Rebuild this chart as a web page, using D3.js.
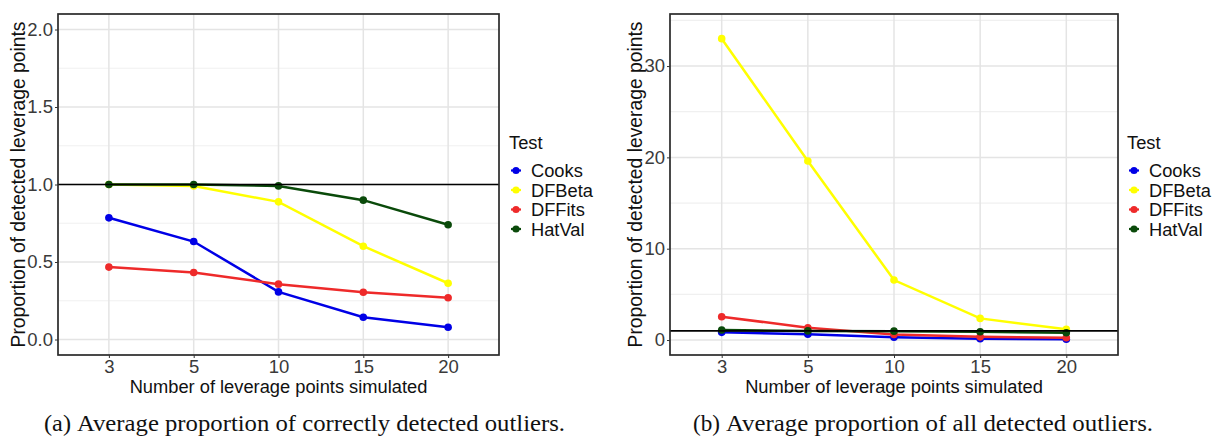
<!DOCTYPE html>
<html><head><meta charset="utf-8">
<script src="https://cdn.jsdelivr.net/npm/d3@7"></script>
<style>body{margin:0;background:#fff}svg{display:block}</style>
</head><body>
<svg id="c" width="1215" height="440"></svg>
<script>
const categories = ["3","5","10","15","20"];
const tests = ["Cooks","DFBeta","DFFits","HatVal"];
const colors = ["#0000e6","#ffff00","#ee2a2a","#0a4a0a"];
// Panel (a): correctly detected
const cooksA  = [0.785,0.632,0.307,0.144,0.079];
const dfbetaA = [1.0,0.99,0.888,0.602,0.363];
const dffitsA = [0.467,0.432,0.357,0.305,0.269];
const hatvalA = [1.0,1.0,0.991,0.899,0.74];
// Panel (b): all detected
const cooksB  = [0.84,0.63,0.31,0.14,0.08];
const dfbetaB = [33.0,19.6,6.57,2.37,1.17];
const dffitsB = [2.55,1.35,0.6,0.35,0.25];
const hatvalB = [1.1,1.0,0.97,0.9,0.8];
const yTicksA = [0,0.5,1.0,1.5,2.0];
const yMinorA = [0.25,0.75,1.25,1.75];
const yTicksB = [0,10,20,30];
const yMinorB = [5,15,25,35];
const refLine = 1;
const captionA = ["(a)","Average proportion of correctly detected outliers."];
const captionB = ["(b)","Average proportion of all detected outliers."];
const xTitle = "Number of leverage points simulated";
const yTitle = "Proportion of detected leverage points";
const legendTitle = "Test";

const svg = d3.select("#c");
const SANS = "'Liberation Sans', Arial, sans-serif";

function panel(cfg){
  const {x0,x1,y0,y1,domain,ticks,minor,series,fmt,ytx,leg} = cfg;
  const x = d3.scalePoint().domain(categories).range([x0,x1]).padding(0.6);
  const y = d3.scaleLinear().domain(domain).range([y1,y0]);
  const g = svg.append("g");
  // grid
  g.selectAll(".mn").data(minor).join("line")
    .attr("x1",x0).attr("x2",x1).attr("y1",d=>y(d)).attr("y2",d=>y(d))
    .attr("stroke","#f0f0f0").attr("stroke-width",1.2);
  g.selectAll(".mj").data(ticks).join("line")
    .attr("x1",x0).attr("x2",x1).attr("y1",d=>y(d)).attr("y2",d=>y(d))
    .attr("stroke","#e4e4e4").attr("stroke-width",1.5);
  g.selectAll(".mx").data(categories).join("line")
    .attr("x1",d=>x(d)).attr("x2",d=>x(d)).attr("y1",y0).attr("y2",y1)
    .attr("stroke","#e4e4e4").attr("stroke-width",1.5);
  // series
  series.forEach((vals,i)=>{
    const line = d3.line().x((d,j)=>x(categories[j])).y(d=>y(d));
    g.append("path").datum(vals).attr("d",line).attr("fill","none")
      .attr("stroke",colors[i]).attr("stroke-width",2.5);
    g.selectAll(null).data(vals).join("circle")
      .attr("cx",(d,j)=>x(categories[j])).attr("cy",d=>y(d)).attr("r",3.8)
      .attr("fill",colors[i]);
  });
  // hline
  g.append("line").attr("x1",x0).attr("x2",x1).attr("y1",y(refLine)).attr("y2",y(refLine))
    .attr("stroke","#000").attr("stroke-width",1.7);
  // border
  g.append("rect").attr("x",x0).attr("y",y0).attr("width",x1-x0).attr("height",y1-y0)
    .attr("fill","none").attr("stroke","#2a2a2a").attr("stroke-width",1.7);
  // axes
  const ya = d3.axisLeft(y).tickValues(ticks).tickSize(3).tickPadding(2).tickFormat(fmt);
  const ag = g.append("g").attr("transform",`translate(${x0},0)`).call(ya);
  ag.select(".domain").remove();
  ag.selectAll("line").attr("stroke","#333");
  ag.selectAll("text").attr("font-family",SANS).attr("font-size",18.5).attr("fill","#3a3a3a");
  const xa = d3.axisBottom(x).tickSize(3).tickPadding(2);
  const xg = g.append("g").attr("transform",`translate(0,${y1})`).call(xa);
  xg.select(".domain").remove();
  xg.selectAll("line").attr("stroke","#333");
  xg.selectAll("text").attr("font-family",SANS).attr("font-size",18.5).attr("fill","#3a3a3a");
  // titles
  g.append("text").attr("x",(x0+x1)/2).attr("y",393).attr("text-anchor","middle")
    .attr("font-family",SANS).attr("font-size",18.3).attr("fill","#111").text(xTitle);
  g.append("text").attr("transform",`translate(${ytx},${(y0+y1)/2}) rotate(-90)`)
    .attr("text-anchor","middle").attr("font-family",SANS).attr("font-size",19.3)
    .attr("fill","#111").text(yTitle);
  // legend
  g.append("text").attr("x",leg.x).attr("y",149).attr("font-family",SANS)
    .attr("font-size",18.3).attr("fill","#111").text(legendTitle);
  tests.forEach((t,i)=>{
    const cy = 170.5 + i*19.5;
    g.append("line").attr("x1",leg.x+2).attr("x2",leg.x+12).attr("y1",cy).attr("y2",cy)
      .attr("stroke",colors[i]).attr("stroke-width",2.2);
    g.append("circle").attr("cx",leg.x+7).attr("cy",cy).attr("r",3.6).attr("fill",colors[i]);
    g.append("text").attr("x",leg.x+22).attr("y",cy+6.5).attr("font-family",SANS)
      .attr("font-size",18.3).attr("fill","#111").text(t);
  });
}

panel({x0:58,x1:499,y0:14,y1:355,domain:[-0.1,2.1],ticks:yTicksA,minor:yMinorA,
  series:[cooksA,dfbetaA,dffitsA,hatvalA],fmt:d3.format(".1f"),ytx:25,leg:{x:509}});
panel({x0:670,x1:1118,y0:14,y1:355,domain:[-1.64,35.7],ticks:yTicksB,minor:yMinorB,
  series:[cooksB,dfbetaB,dffitsB,hatvalB],fmt:d3.format("d"),ytx:642,leg:{x:1127}});

// captions
const SERIF = "'Liberation Serif','DejaVu Serif',serif";
function caption(parts,x0,x1,x2){
  svg.append("text").attr("x",x0).attr("y",431).attr("font-family",SERIF).attr("font-size",24)
    .attr("fill","#111").attr("textLength",x1-x0-6).attr("lengthAdjust","spacingAndGlyphs").text(parts[0]);
  svg.append("text").attr("x",x1).attr("y",431).attr("font-family",SERIF).attr("font-size",24)
    .attr("fill","#111").attr("textLength",x2-x1).attr("lengthAdjust","spacingAndGlyphs").text(parts[1]);
}
caption(captionA,44,77,565);
caption(captionB,693,726,1153);
</script>
</body></html>
